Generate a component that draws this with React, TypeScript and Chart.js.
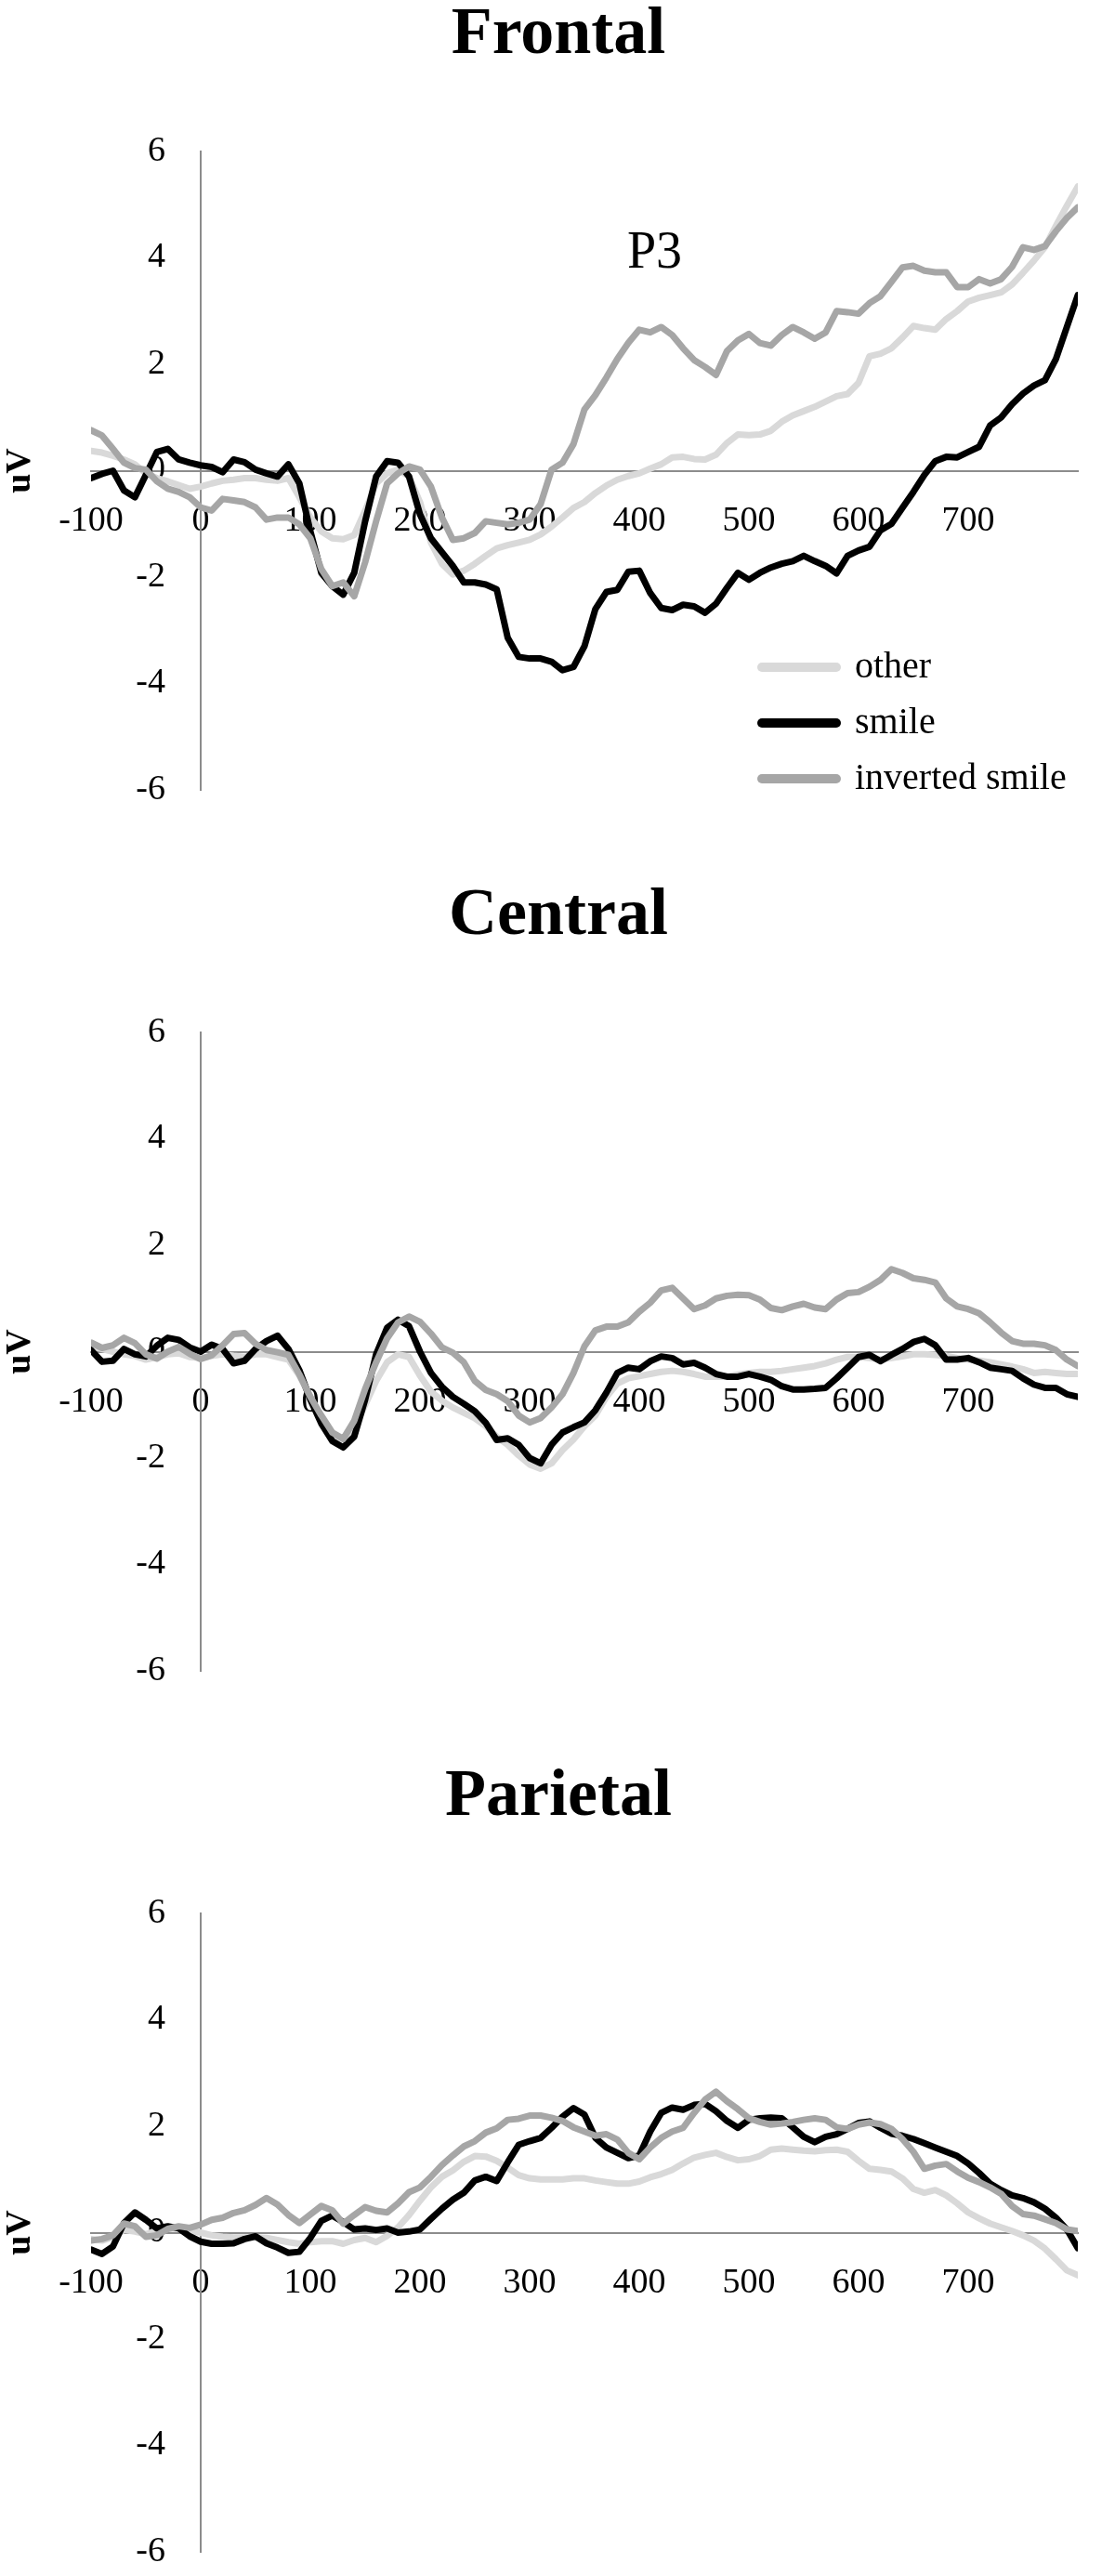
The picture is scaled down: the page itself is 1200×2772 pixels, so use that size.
import React, { useEffect, useRef } from "react";
import { Chart, registerables } from "chart.js";

Chart.register(...registerables);

const FONT = "'Liberation Serif', 'Times New Roman', serif";
const AXIS_COLOR = "#8c8c8c";

// time points (ms)
const TIMES = [
  -100, -90, -80, -70, -60, -50, -40, -30, -20, -10,
  0, 10, 20, 30, 40, 50, 60, 70, 80, 90,
  100, 110, 120, 130, 140, 150, 160, 170, 180, 190,
  200, 210, 220, 230, 240, 250, 260, 270, 280, 290,
  300, 310, 320, 330, 340, 350, 360, 370, 380, 390,
  400, 410, 420, 430, 440, 450, 460, 470, 480, 490,
  500, 510, 520, 530, 540, 550, 560, 570, 580, 590,
  600, 610, 620, 630, 640, 650, 660, 670, 680, 690,
  700, 710, 720, 730, 740, 750, 760, 770, 780, 790,
  800,
];

const X_TICK_LABELS = [-100, 0, 100, 200, 300, 400, 500, 600, 700];
const Y_MIN = -6;
const Y_MAX = 6;
const Y_STEP = 2;

const SERIES_NAMES = ["other", "smile", "inverted smile"];
const SERIES_COLORS = ["#d9d9d9", "#000000", "#a6a6a6"];
const PANEL_TITLES = ["Frontal", "Central", "Parietal"];

// ---------- Frontal ----------
const FRONTAL_OTHER = [
  0.37, 0.34, 0.28, 0.21, 0.12, -0.05, -0.14, -0.2, -0.27, -0.34,
  -0.3, -0.24, -0.19, -0.17, -0.14, -0.14, -0.17, -0.19, -0.14, -0.5,
  -0.88, -1.14, -1.27, -1.29, -1.21, -0.75, -0.24, -0.05, 0.02, -0.11,
  -0.59, -1.35, -1.75, -1.95, -1.88, -1.75, -1.6, -1.46, -1.4, -1.35,
  -1.3, -1.2, -1.05, -0.88, -0.7, -0.59, -0.42, -0.28, -0.17, -0.1,
  -0.05, 0.04, 0.12, 0.25, 0.26, 0.22, 0.21, 0.3, 0.52, 0.68,
  0.67, 0.68, 0.75, 0.92, 1.04, 1.12, 1.2, 1.3, 1.4, 1.44,
  1.65, 2.15, 2.2, 2.3, 2.5, 2.72, 2.68, 2.65, 2.85, 3.0,
  3.18, 3.25, 3.3, 3.35, 3.5, 3.72, 3.95, 4.2, 4.6, 4.98,
  5.34,
];
const FRONTAL_SMILE = [
  -0.14, -0.06, 0.0, -0.37, -0.5, -0.08, 0.35, 0.41, 0.21, 0.15,
  0.1, 0.07, -0.03, 0.21, 0.16, 0.02, -0.05, -0.11, 0.12, -0.24,
  -1.14, -1.92, -2.17, -2.33, -1.92, -0.95, -0.11, 0.18, 0.15, -0.11,
  -0.82, -1.27, -1.53, -1.79, -2.1, -2.1, -2.14, -2.23, -3.14, -3.5,
  -3.53, -3.53, -3.59, -3.75, -3.69, -3.3, -2.6, -2.28, -2.24, -1.9,
  -1.88, -2.3, -2.58, -2.62, -2.52, -2.55, -2.67, -2.5, -2.2, -1.92,
  -2.05, -1.92, -1.82, -1.75, -1.7, -1.6, -1.7, -1.79, -1.93, -1.6,
  -1.5, -1.43, -1.12, -1.0, -0.7, -0.4, -0.08, 0.18, 0.26, 0.25,
  0.35, 0.45, 0.85, 1.0, 1.25, 1.45, 1.6, 1.7, 2.1, 2.7,
  3.3,
];
const FRONTAL_INVERTED = [
  0.76, 0.66, 0.41, 0.15, 0.05, 0.02, -0.2, -0.34, -0.4, -0.5,
  -0.69, -0.75, -0.53, -0.56, -0.59, -0.69, -0.92, -0.88, -0.88, -1.01,
  -1.27, -1.85, -2.17, -2.1, -2.36, -1.72, -0.95, -0.24, -0.05, 0.08,
  0.02, -0.3, -0.88, -1.3, -1.27, -1.17, -0.95, -0.98, -1.01, -0.98,
  -0.92, -0.63, 0.02, 0.15, 0.5, 1.15, 1.42, 1.75, 2.1, 2.4,
  2.65, 2.6, 2.7, 2.55, 2.3, 2.08, 1.95, 1.8, 2.25, 2.45,
  2.57, 2.4, 2.35, 2.55, 2.7, 2.6, 2.48, 2.6, 3.0, 2.98,
  2.95, 3.15, 3.28, 3.55, 3.82, 3.85, 3.76, 3.73, 3.73, 3.45,
  3.45, 3.6, 3.52, 3.6, 3.83, 4.2, 4.15, 4.22, 4.5, 4.75,
  4.95,
];

// ---------- Central ----------
const CENTRAL_OTHER = [
  0.1, 0.05, 0.0, -0.05, -0.08, -0.15, -0.1, -0.05, -0.03, -0.1,
  -0.12, -0.08, -0.05, -0.08, -0.1, -0.05, -0.05, -0.1, -0.15, -0.45,
  -0.85, -1.25, -1.55, -1.65, -1.45, -1.0, -0.55, -0.2, -0.05, -0.1,
  -0.45, -0.75, -0.92, -1.05, -1.15, -1.25, -1.4, -1.6, -1.75, -1.95,
  -2.12, -2.2, -2.1, -1.85, -1.65, -1.4, -1.2, -0.85, -0.6, -0.5,
  -0.46, -0.42, -0.38, -0.36, -0.38, -0.42, -0.47, -0.47, -0.47, -0.43,
  -0.4, -0.38, -0.38, -0.36, -0.33, -0.3, -0.27, -0.22, -0.15, -0.1,
  -0.1, -0.12, -0.15, -0.12, -0.09, -0.05, -0.05, -0.06, -0.08, -0.12,
  -0.15, -0.17, -0.2, -0.24, -0.28, -0.33, -0.4, -0.38, -0.4, -0.42,
  -0.42,
];
const CENTRAL_SMILE = [
  0.03, -0.19, -0.17, 0.05, -0.05, -0.09, 0.11, 0.26, 0.22, 0.08,
  0.0, 0.13, 0.05, -0.22, -0.17, 0.05, 0.2, 0.3, 0.05, -0.35,
  -0.9, -1.35, -1.68, -1.8, -1.6, -0.9, -0.05, 0.45, 0.6, 0.48,
  0.0, -0.4, -0.66, -0.85, -0.98, -1.12, -1.34, -1.66, -1.63, -1.75,
  -2.0, -2.1, -1.75, -1.52, -1.42, -1.33, -1.1, -0.77, -0.4, -0.3,
  -0.33, -0.18, -0.09, -0.12, -0.24, -0.21, -0.3, -0.42, -0.47, -0.47,
  -0.42, -0.47, -0.53, -0.65, -0.71, -0.71, -0.7, -0.68, -0.5, -0.3,
  -0.1, -0.06, -0.18, -0.06, 0.05, 0.18, 0.24, 0.12, -0.15, -0.15,
  -0.12, -0.2, -0.3, -0.33, -0.36, -0.5, -0.62, -0.68, -0.68, -0.8,
  -0.85,
];
const CENTRAL_INVERTED = [
  0.17, 0.07, 0.12, 0.26, 0.16, -0.05, -0.13, 0.0, 0.09, -0.04,
  -0.14, -0.07, 0.12, 0.33, 0.35, 0.15, 0.03, -0.01, -0.06, -0.43,
  -0.85, -1.2, -1.52, -1.64, -1.3, -0.7, -0.2, 0.25, 0.55, 0.66,
  0.56, 0.34, 0.08, -0.02, -0.2, -0.55, -0.72, -0.8, -0.93, -1.2,
  -1.33, -1.25, -1.05, -0.8, -0.4, 0.1, 0.4, 0.47, 0.47, 0.55,
  0.75, 0.92, 1.15, 1.2, 1.0, 0.8, 0.87, 1.0, 1.05, 1.07,
  1.06, 0.98, 0.82, 0.78, 0.85, 0.9, 0.83, 0.8, 0.98, 1.1,
  1.12, 1.22, 1.35, 1.55, 1.48, 1.38, 1.35, 1.3, 1.0, 0.85,
  0.8, 0.72, 0.55, 0.36, 0.2, 0.15, 0.15, 0.12, 0.03, -0.15,
  -0.27,
];

// ---------- Parietal ----------
const PARIETAL_OTHER = [
  -0.12, -0.15, -0.08, 0.05, 0.02, -0.03, 0.04, 0.08, 0.07, 0.03,
  0.0, -0.05, -0.08, -0.09, -0.09, -0.09, -0.1, -0.14, -0.18, -0.21,
  -0.18, -0.16, -0.16, -0.21, -0.14, -0.1, -0.18, -0.06, 0.1, 0.33,
  0.6, 0.85, 1.05, 1.17, 1.33, 1.44, 1.43, 1.35, 1.22, 1.08,
  1.02, 1.0, 1.0, 1.0, 1.02, 1.02, 0.98, 0.95, 0.92, 0.92,
  0.96, 1.04, 1.1, 1.18, 1.3, 1.41, 1.46, 1.5, 1.42, 1.36,
  1.38, 1.44, 1.56, 1.58, 1.56, 1.54, 1.53, 1.55, 1.56, 1.52,
  1.35, 1.2, 1.18, 1.15, 1.02, 0.82, 0.75, 0.8, 0.7, 0.55,
  0.38, 0.27, 0.17, 0.1, 0.03, -0.05, -0.15, -0.3, -0.5, -0.71,
  -0.8,
];
const PARIETAL_SMILE = [
  -0.32, -0.4, -0.26, 0.18, 0.38, 0.24, 0.08, 0.12, 0.08, -0.07,
  -0.17, -0.21, -0.21, -0.2, -0.12, -0.07, -0.2, -0.28, -0.38, -0.36,
  -0.1, 0.22, 0.32, 0.2, 0.06, 0.08, 0.05, 0.08, 0.0, 0.02,
  0.06, 0.26, 0.45, 0.62, 0.75, 0.98, 1.05, 0.97, 1.32, 1.65,
  1.72, 1.78, 1.97, 2.18, 2.34, 2.22, 1.78, 1.6, 1.5, 1.4,
  1.45, 1.9, 2.25, 2.35, 2.31, 2.4, 2.42, 2.28, 2.1, 1.97,
  2.12, 2.15, 2.16, 2.15, 1.98, 1.8, 1.7, 1.8, 1.85, 1.95,
  2.06, 2.09, 1.97, 1.86, 1.82, 1.76, 1.68, 1.6, 1.52, 1.44,
  1.3, 1.12, 0.92, 0.8, 0.7, 0.65, 0.57, 0.45, 0.28, 0.06,
  -0.29,
];
const PARIETAL_INVERTED = [
  -0.15, -0.12, -0.05, 0.17, 0.12, -0.08, -0.05, 0.07, 0.12, 0.09,
  0.15, 0.24, 0.28, 0.37, 0.42, 0.52, 0.65, 0.53, 0.33, 0.18,
  0.34, 0.5, 0.42, 0.17, 0.33, 0.48, 0.41, 0.38, 0.55, 0.76,
  0.85, 1.05, 1.27, 1.45, 1.62, 1.72, 1.88, 1.96, 2.12, 2.14,
  2.2, 2.2, 2.16, 2.1, 1.98, 1.9, 1.82, 1.85, 1.75, 1.5,
  1.38, 1.6, 1.78, 1.9, 1.97, 2.25, 2.5, 2.65, 2.47, 2.32,
  2.15, 2.08, 2.03, 2.05, 2.08, 2.12, 2.15, 2.12, 1.98, 1.95,
  2.03, 2.07, 2.04, 1.95, 1.76, 1.52, 1.2, 1.26, 1.29, 1.15,
  1.03, 0.95, 0.85, 0.73, 0.5, 0.35, 0.32, 0.25, 0.18, 0.06,
  0.03,
];

const PANEL_SERIES = [
  [FRONTAL_OTHER, FRONTAL_SMILE, FRONTAL_INVERTED],
  [CENTRAL_OTHER, CENTRAL_SMILE, CENTRAL_INVERTED],
  [PARIETAL_OTHER, PARIETAL_SMILE, PARIETAL_INVERTED],
];

const P3_NOTE = { text: "P3", x: 414, y: 4.07 };

// canvas heights of the three stacked panels
const PANEL_HEIGHTS = [948, 948, 876];
const PLOT_BOTTOM = 850;

const notePlugin = {
  id: "note",
  afterDatasetsDraw(chart: any, _args: any, opts: any) {
    if (!opts || !opts.text) return;
    const { ctx } = chart;
    const xs = chart.scales.x;
    const ys = chart.scales.y;
    ctx.save();
    ctx.font = `56px ${FONT}`;
    ctx.fillStyle = "#000";
    ctx.textAlign = "center";
    ctx.textBaseline = "middle";
    ctx.fillText(opts.text, xs.getPixelForValue(opts.x), ys.getPixelForValue(opts.y));
    ctx.restore();
  },
};

const legendPlacer = {
  id: "legendPlacer",
  afterLayout(chart: any, _args: any, opts: any) {
    const lg = chart.legend;
    if (!lg || !opts || opts.left === undefined) return;
    lg.left = opts.left;
    lg.top = opts.top;
    lg.right = opts.left + 400;
    lg.bottom = opts.top + 260;
    lg.width = 400;
    lg.height = 260;
  },
};

function makeConfig(idx: number): any {
  const height = PANEL_HEIGHTS[idx];
  const series = PANEL_SERIES[idx];
  const showLegend = idx === 0;
  const datasets = series.map((vals, i) => ({
    label: SERIES_NAMES[i],
    data: TIMES.map((t, k) => ({ x: t, y: vals[k] })),
    borderColor: SERIES_COLORS[i],
    backgroundColor: SERIES_COLORS[i],
    borderWidth: 7,
    pointRadius: 0,
    pointHoverRadius: 0,
    tension: 0,
    fill: false,
    borderJoinStyle: "round",
    borderCapStyle: "round",
    order: 3 - i,
  }));

  return {
    type: "line",
    data: { datasets },
    options: {
      responsive: false,
      animation: false,
      events: [],
      layout: {
        autoPadding: false,
        padding: { left: 42, right: 40, top: 0, bottom: height - PLOT_BOTTOM },
      },
      scales: {
        x: {
          type: "linear",
          min: -100,
          max: 800,
          position: { y: 0 },
          grid: { display: false, drawTicks: false },
          border: { display: true, color: AXIS_COLOR, width: 2 },
          ticks: {
            stepSize: 100,
            autoSkip: false,
            maxRotation: 0,
            padding: 32,
            color: "#000",
            font: { family: FONT, size: 38 },
            callback: (v: any) => (X_TICK_LABELS.includes(v) ? String(v) : ""),
          },
        },
        y: {
          type: "linear",
          min: Y_MIN,
          max: Y_MAX,
          position: { x: 0 },
          grid: { display: false, drawTicks: false },
          border: { display: true, color: AXIS_COLOR, width: 2 },
          ticks: {
            stepSize: Y_STEP,
            color: "#000",
            font: { family: FONT, size: 38 },
            callback: (v: any) => `${v}    `,
          },
        },
        yTitle: {
          type: "linear",
          position: "left",
          display: true,
          grid: { display: false, drawTicks: false },
          border: { display: false },
          ticks: { display: false },
          title: {
            display: true,
            text: "uV",
            color: "#000",
            font: { family: FONT, size: 38, weight: "bold", lineHeight: 1.2 },
            padding: { top: -42.8, bottom: 53.2 },
          },
        },
      },
      plugins: {
        title: {
          display: true,
          text: PANEL_TITLES[idx],
          color: "#000",
          font: { family: FONT, size: 72, weight: "bold", lineHeight: 1 },
          padding: { top: 2, bottom: 89 },
        },
        legend: showLegend
          ? {
              display: true,
              position: "chartArea",
              align: "start",
              labels: {
                usePointStyle: true,
                pointStyleWidth: 80,
                padding: 20,
                color: "#000",
                font: { family: FONT, size: 40 },
                sort: (a: any, b: any) => a.datasetIndex - b.datasetIndex,
                generateLabels: (chart: any) =>
                  (Chart.defaults.plugins.legend.labels as any)
                    .generateLabels(chart)
                    .map((it: any) => ({
                      ...it,
                      pointStyle: "line",
                      lineWidth: 10,
                      lineCap: "round",
                      strokeStyle: SERIES_COLORS[it.datasetIndex],
                      fillStyle: SERIES_COLORS[it.datasetIndex],
                    })),
              },
            }
          : { display: false },
        tooltip: { enabled: false },
        note: idx === 0 ? P3_NOTE : false,
        legendPlacer: showLegend ? { left: 800, top: 678 } : false,
      },
    },
    plugins: [notePlugin, legendPlacer],
  };
}

function Panel({ idx }: { idx: number }) {
  const ref = useRef<HTMLCanvasElement | null>(null);
  const h = PANEL_HEIGHTS[idx];
  useEffect(() => {
    if (!ref.current) return;
    const chart = new Chart(ref.current, makeConfig(idx));
    return () => chart.destroy();
  }, [idx]);
  return (
    <canvas
      ref={ref}
      width={1200}
      height={h}
      style={{ display: "block", width: "1200px", height: `${h}px` }}
    />
  );
}

export default function App() {
  return (
    <div
      style={{
        position: "absolute",
        left: 0,
        top: 0,
        width: "1200px",
        height: "2772px",
        background: "#ffffff",
        overflow: "hidden",
      }}
    >
      {PANEL_TITLES.map((_, i) => (
        <Panel key={i} idx={i} />
      ))}
    </div>
  );
}
